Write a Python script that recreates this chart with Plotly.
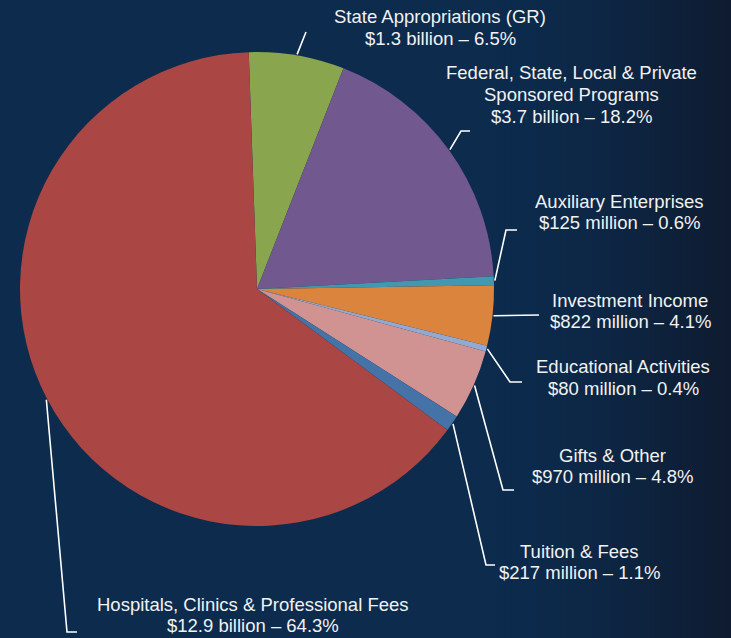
import math
import plotly.graph_objects as go

# ---- data ----
categories = [
    "State Appropriations (GR)",
    "Federal, State, Local & Private Sponsored Programs",
    "Auxiliary Enterprises",
    "Investment Income",
    "Educational Activities",
    "Gifts & Other",
    "Tuition & Fees",
    "Hospitals, Clinics & Professional Fees",
]
amounts = ["$1.3 billion", "$3.7 billion", "$125 million", "$822 million",
           "$80 million", "$970 million", "$217 million", "$12.9 billion"]
percents = [6.5, 18.2, 0.6, 4.1, 0.4, 4.8, 1.1, 64.3]
label_lines = [
    ["State Appropriations (GR)"],
    ["Federal, State, Local & Private", "Sponsored Programs"],
    ["Auxiliary Enterprises"],
    ["Investment Income"],
    ["Educational Activities"],
    ["Gifts & Other"],
    ["Tuition & Fees"],
    ["Hospitals, Clinics & Professional Fees"],
]

# ---- style / layout ----
colors = ["#89A54E", "#71588F", "#4198AF", "#DB843D", "#93A9CF",
          "#D19392", "#4572A7", "#AA4643"]
W, H = 731, 638
CX, CY, R = 257, 289, 237
ROT = -2  # degrees, clockwise from 12 o'clock
FONT = "Liberation Sans, Arial, sans-serif"
FS = 18.5
LINE_H = 21.5

label_pos = [(440, 17), (571, 73), (619, 201), (630, 300),
             (623, 367), (612, 455), (579, 551), (253, 604)]
leader_pts = [
    [(306, 32)],
    [(461, 131), (470, 131)],
    [(506, 230), (517, 230)],
    [(539, 315)],
    [(510, 382), (522, 382)],
    [(503, 490), (514, 490)],
    [(486, 565), (495, 565)],
    [(67, 632), (77, 632)],
]


def px(x):
    return x / W


def py(y):
    return 1 - y / H


fig = go.Figure()

fig.add_trace(go.Pie(
    labels=categories,
    values=percents,
    sort=False,
    direction="clockwise",
    rotation=ROT,
    marker=dict(colors=colors, line=dict(width=0)),
    textinfo="none",
    hoverinfo="label+percent",
    showlegend=False,
    domain=dict(x=[px(CX - R), px(CX + R)], y=[py(CY + R), py(CY - R)]),
))

shapes = []
# background gradient (horizontal strips)
c0 = (12, 43, 77)
c1 = (15, 27, 48)
x_start = 480
n = 40
shapes.append(dict(type="rect", xref="paper", yref="paper", x0=0, x1=1, y0=0, y1=1,
                   fillcolor="rgb(%d,%d,%d)" % c0, line=dict(width=0), layer="below"))
for i in range(n):
    xa = x_start + (W - x_start) * i / n
    xb = x_start + (W - x_start) * (i + 1) / n + 1
    t = ((i + 0.5) / n) ** 1.6
    c = tuple(round(c0[k] + (c1[k] - c0[k]) * t) for k in range(3))
    shapes.append(dict(type="rect", xref="paper", yref="paper", x0=px(xa), x1=px(min(xb, W)),
                       y0=0, y1=1, fillcolor="rgb(%d,%d,%d)" % c,
                       line=dict(width=0), layer="below"))

annotations = []
cum = 0.0
total = sum(percents)
for i, p in enumerate(percents):
    mid = ROT + (cum + p / 2) / total * 360
    cum += p
    a = math.radians(mid)
    sx = CX + (R + 1) * math.sin(a)
    sy = CY - (R + 1) * math.cos(a)
    pts = [(sx, sy)] + leader_pts[i]
    path = "M %f,%f " % (px(pts[0][0]), py(pts[0][1])) + " ".join(
        "L %f,%f" % (px(x), py(y)) for x, y in pts[1:])
    shapes.append(dict(type="path", xref="paper", yref="paper", path=path,
                       line=dict(color="white", width=1.6)))
    lines = label_lines[i] + ["%s \u2013 %.1f%%" % (amounts[i], p)]
    lx, ly = label_pos[i]
    for j, t in enumerate(lines):
        annotations.append(dict(x=px(lx), y=py(ly + j * LINE_H), xref="paper", yref="paper",
                                text=t, showarrow=False, xanchor="center", yanchor="middle",
                                font=dict(family=FONT, size=FS, color="#F2F2F2")))

fig.update_layout(
    width=W, height=H,
    margin=dict(l=0, r=0, t=0, b=0),
    paper_bgcolor="rgb(12,43,77)",
    plot_bgcolor="rgba(0,0,0,0)",
    shapes=shapes,
    annotations=annotations,
)

fig.write_html("out.html", config={"displayModeBar": False},
               post_script="document.body.style.margin='0';")
